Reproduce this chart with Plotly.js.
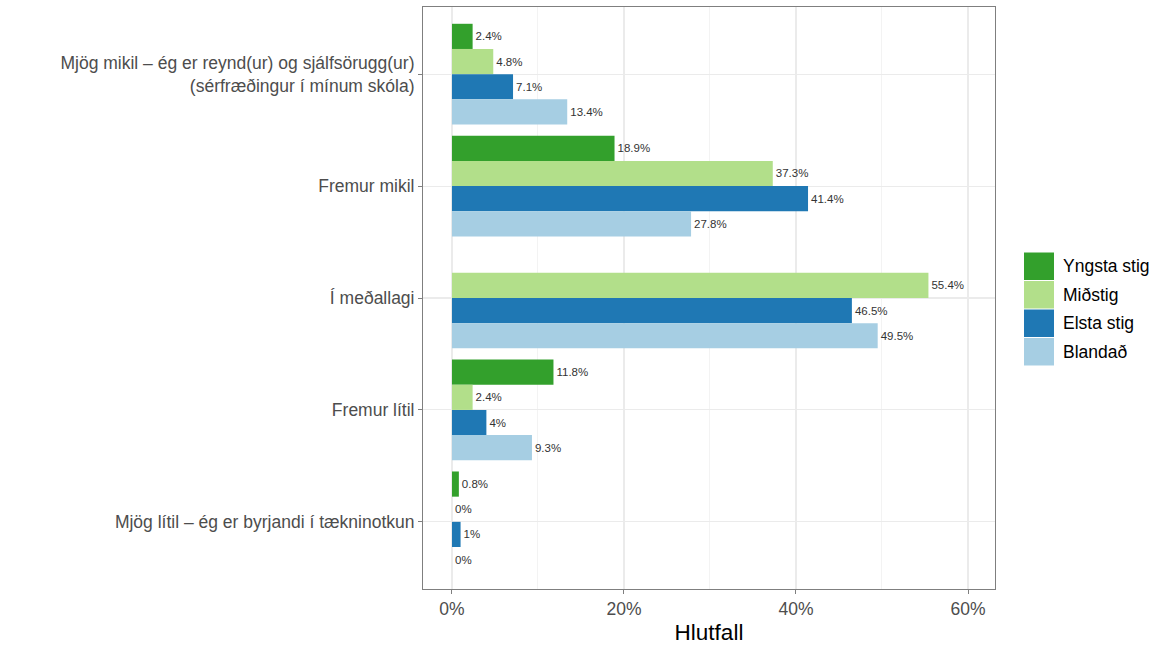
<!DOCTYPE html>
<html><head><meta charset="utf-8">
<script src="https://cdn.plot.ly/plotly-3.0.1.min.js"></script>
<style>html,body{margin:0;padding:0;background:#fff}#chart{width:1169px;height:646px}</style>
</head><body><div id="chart"></div>
<script>
const categories = [
  "Mjög mikil – ég er reynd(ur) og sjálfsörugg(ur)<br>(sérfræðingur í mínum skóla)",
  "Fremur mikil",
  "Í meðallagi",
  "Fremur lítil",
  "Mjög lítil – ég er byrjandi í tækninotkun"
];
const seriesNames = ["Yngsta stig", "Miðstig", "Elsta stig", "Blandað"];
const yngsta = [2.4, 18.9, null, 11.8, 0.8];
const midstig = [4.8, 37.3, 55.4, 2.4, 0];
const elsta = [7.1, 41.4, 46.5, 4, 1];
const blandad = [13.4, 27.8, 49.5, 9.3, 0];
const colors = ["#33a02c", "#b2df8a", "#1f78b4", "#a6cee3"];
const xTicks = [0, 20, 40, 60];

const allSeries = [yngsta, midstig, elsta, blandad];
const FONT = "Liberation Sans, Arial, sans-serif";

const traces = allSeries.map((vals, i) => ({
  type: "bar",
  orientation: "h",
  name: seriesNames[i],
  y: categories,
  x: vals,
  marker: {color: colors[i]},
  text: vals.map(v => v === null ? "" : String(v) + "%"),
  textposition: "outside",
  constraintext: "none",
  cliponaxis: false,
  textfont: {family: FONT, size: 11.5, color: "#333333"},
  hoverinfo: "x+name",
  showlegend: false
}));

// plot area in pixels
const L = 423, R = 995, T = 7, B = 589;
const W = R - L, H = B - T;
const px = x => (x - L) / W;
const py = y => (B - y) / H;

const shapes = [];
const annotations = [];
const keyTop = 252, keyH = 28.5;
seriesNames.forEach((n, i) => {
  const y0 = keyTop + i * keyH;
  shapes.push({type: "rect", xref: "paper", yref: "paper",
    x0: px(1024), x1: px(1054), y0: py(y0 + 0.5), y1: py(y0 + keyH - 0.5),
    fillcolor: colors[i], line: {width: 0}});
  annotations.push({xref: "paper", yref: "paper", x: px(1061), y: py(y0 + keyH / 2),
    text: n, showarrow: false, xanchor: "left", yanchor: "middle",
    font: {family: FONT, size: 17.5, color: "#000000"}});
});

const layout = {
  width: 1169, height: 646,
  margin: {l: L, r: 1169 - R, t: T, b: 646 - B, pad: 0},
  paper_bgcolor: "#ffffff", plot_bgcolor: "#ffffff",
  barmode: "group", bargap: 0.1, bargroupgap: 0,
  font: {family: FONT},
  showlegend: false,
  xaxis: {
    range: [-3.37, 63.14], tickvals: xTicks, ticktext: xTicks.map(v => v + "%"),
    showgrid: true, gridcolor: "#ebebeb", gridwidth: 1.1,
    minor: {dtick: 10, tick0: 0, showgrid: true, gridcolor: "#f0f0f0", gridwidth: 0.8},
    zeroline: false, showline: true, mirror: true, linecolor: "#7f7f7f", linewidth: 1,
    ticks: "outside", ticklen: 4, tickcolor: "#7f7f7f",
    tickfont: {family: FONT, size: 17.5, color: "#4d4d4d"},
    title: {text: "Hlutfall", font: {family: FONT, size: 22.5, color: "#000000"}, standoff: 6}
  },
  yaxis: {
    type: "category", range: [4.6, -0.6],
    showgrid: true, gridcolor: "#ebebeb", gridwidth: 1.1,
    zeroline: false, showline: true, mirror: true, linecolor: "#7f7f7f", linewidth: 1,
    ticks: "outside", ticklen: 4, tickcolor: "#7f7f7f",
    tickfont: {family: FONT, size: 17.5, color: "#4d4d4d"}
  },
  shapes: shapes,
  annotations: annotations
};

Plotly.newPlot("chart", traces, layout, {displayModeBar: false, staticPlot: true});
</script></body></html>
